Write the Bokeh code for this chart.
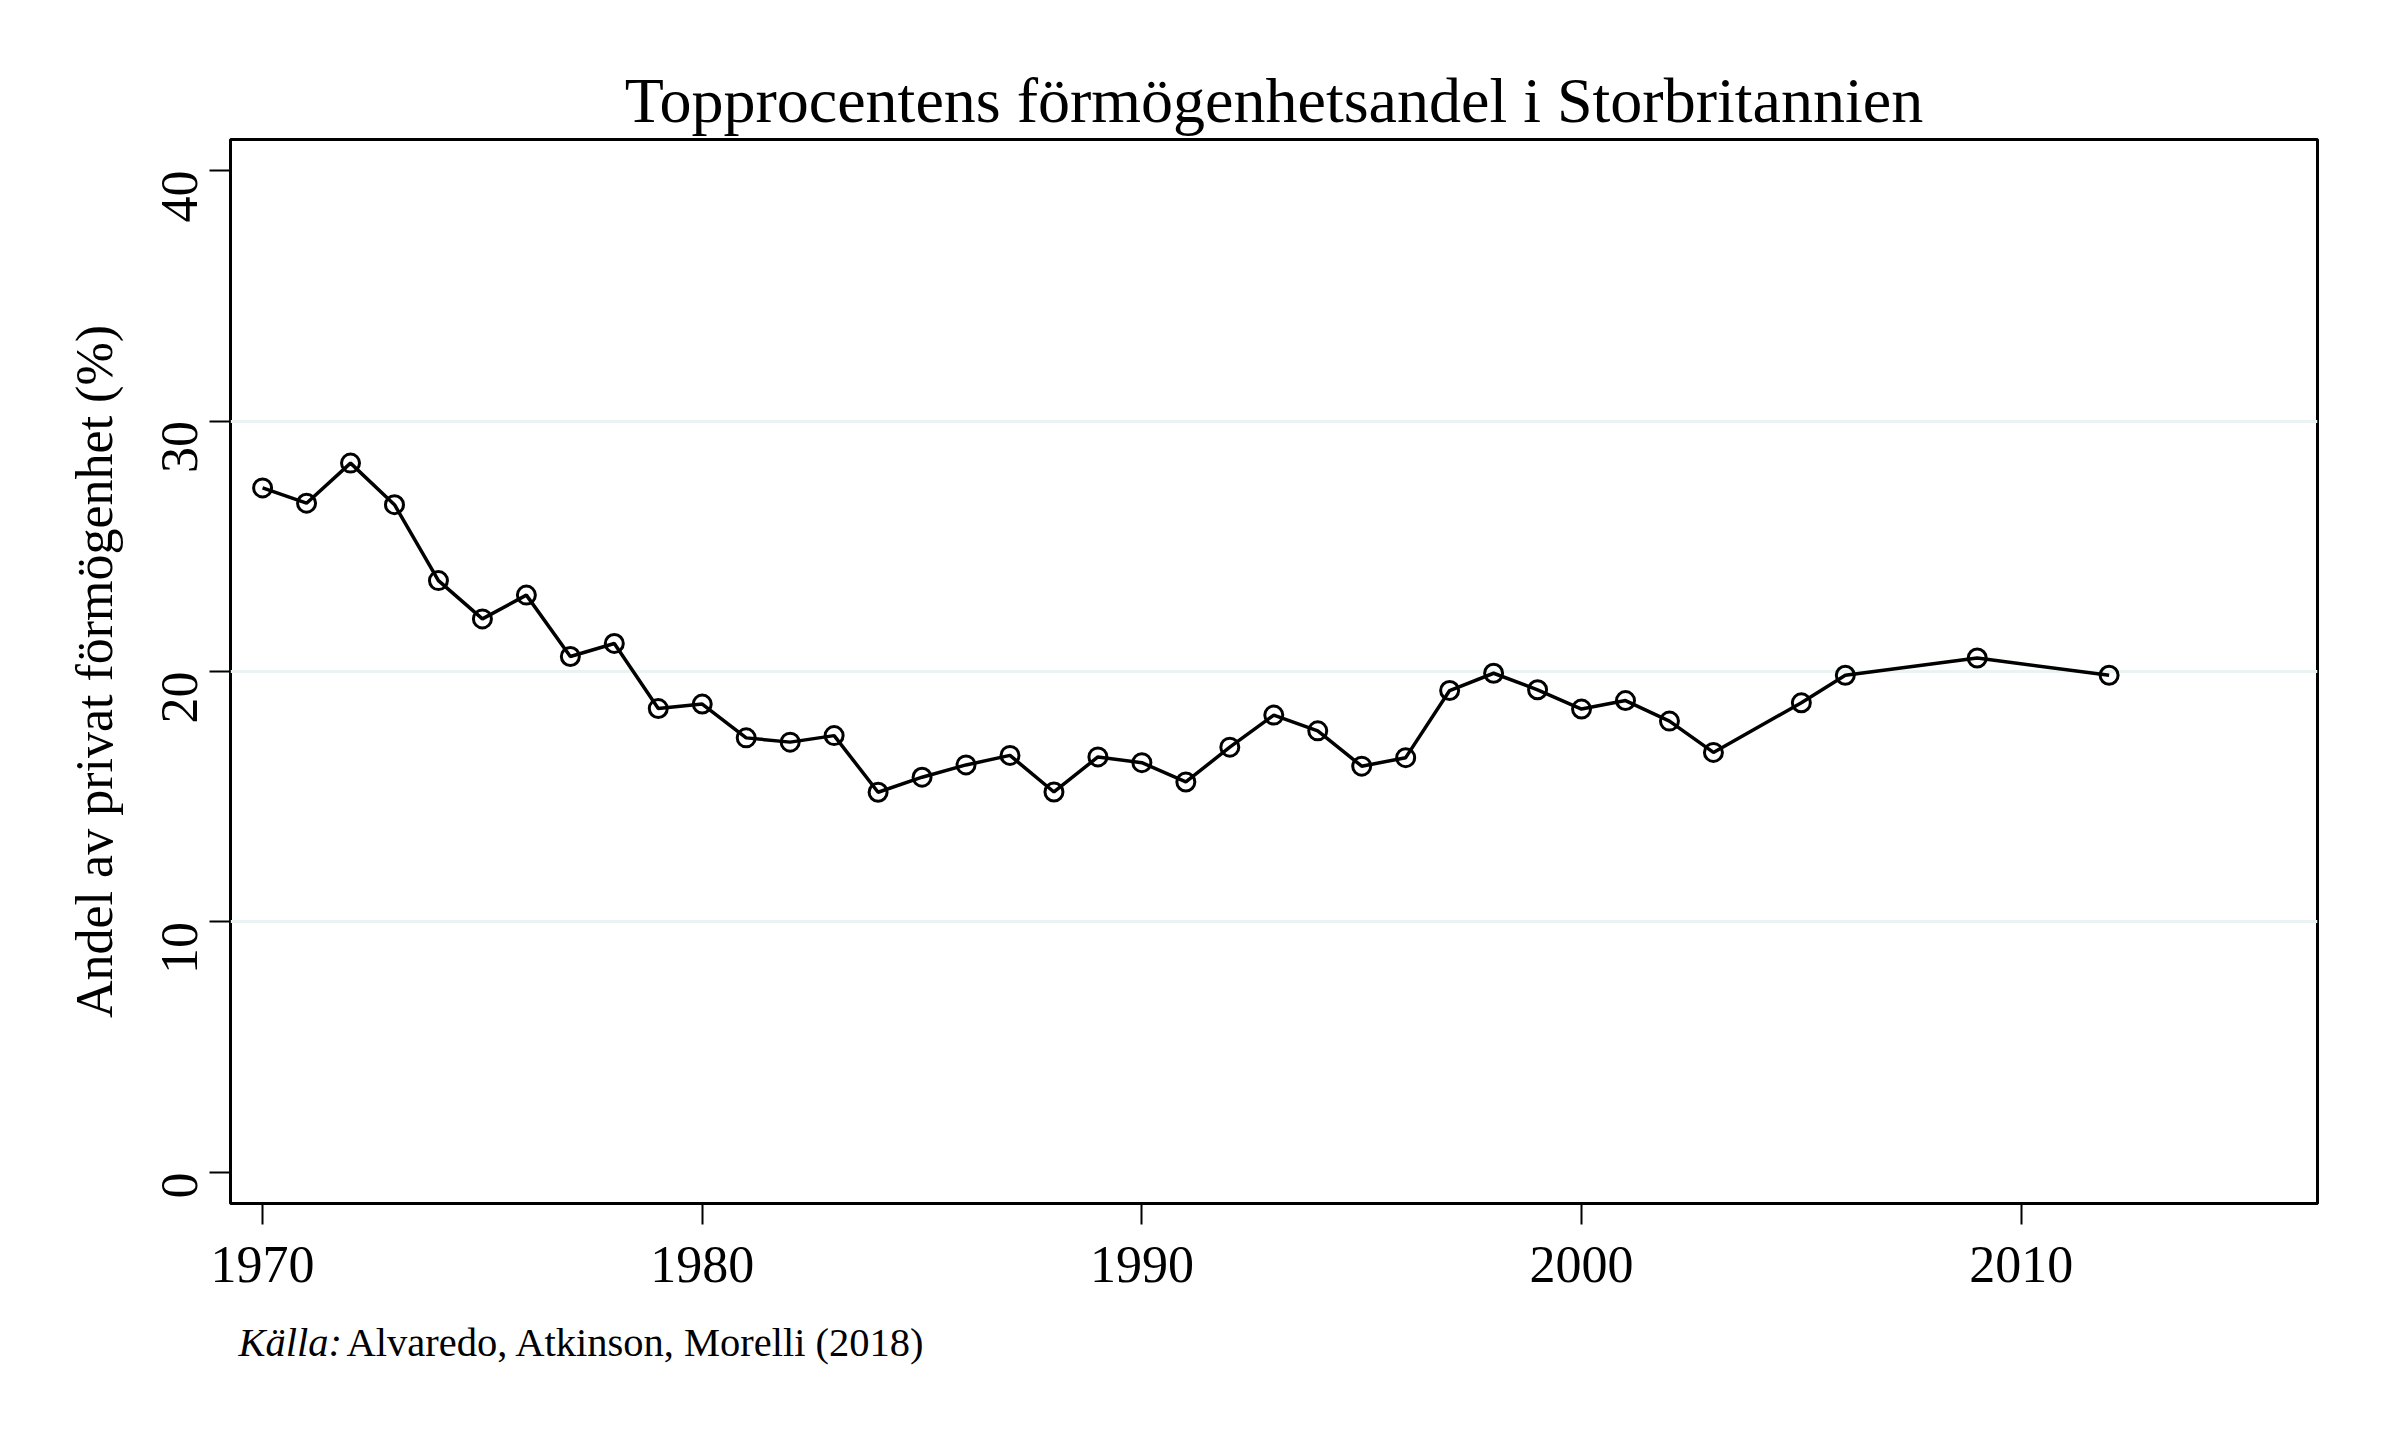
import math
from bokeh.plotting import figure
from bokeh.models import Range1d, FixedTicker, Label
from bokeh.embed import file_html
from bokeh.resources import INLINE

# Data (top 1% wealth share, UK)
years = [1970, 1971, 1972, 1973, 1974, 1975, 1976, 1977, 1978, 1979,
         1980, 1981, 1982, 1983, 1984, 1985, 1986, 1987, 1988, 1989,
         1990, 1991, 1992, 1993, 1994, 1995, 1996, 1997, 1998, 1999,
         2000, 2001, 2002, 2003, 2005, 2006, 2009, 2012]
share = [27.33, 26.72, 28.32, 26.66, 23.63, 22.10, 23.05, 20.60, 21.12, 18.52,
         18.70, 17.35, 17.18, 17.44, 15.18, 15.78, 16.27, 16.65, 15.19, 16.59,
         16.36, 15.59, 16.98, 18.26, 17.63, 16.22, 16.56, 19.24, 19.93, 19.27,
         18.50, 18.84, 18.02, 16.77, 18.75, 19.85, 20.54, 19.85]
x_ticks = [1970, 1980, 1990, 2000, 2010]
y_ticks = [0, 10, 20, 30, 40]
grid_ticks = [10, 20, 30]

title_text = "Topprocentens förmögenhetsandel i Storbritannien"
ylabel_text = "Andel av privat förmögenhet (%)"
source_lead = "Källa:"
source_text = "Alvaredo, Atkinson, Morelli (2018)"

FONT = "Liberation Serif"
FW, FH = 2087, 1064

p = figure(frame_width=FW, frame_height=FH,
           min_border_left=230, min_border_right=49,
           min_border_top=139, min_border_bottom=223,
           x_range=Range1d(1969.27, 2016.74), y_range=Range1d(-1.24, 41.24),
           output_backend="svg", toolbar_location=None,
           background_fill_color="white", border_fill_color="white")

p.title.text = title_text
p.title.align = "center"
p.title.text_font = FONT
p.title.text_font_size = "64px"
p.title.text_font_style = "normal"
p.title.text_color = "black"
p.title.standoff = 7

p.outline_line_color = "black"
p.outline_line_width = 3
p.outline_line_alpha = 1

p.xgrid.visible = False
p.ygrid.ticker = FixedTicker(ticks=grid_ticks)
p.ygrid.grid_line_color = "#eaf2f3"
p.ygrid.grid_line_width = 3

for ax in (p.xaxis[0], p.yaxis[0]):
    ax.axis_line_color = None
    ax.major_tick_line_color = "black"
    ax.major_tick_line_width = 2
    ax.major_tick_in = 0
    ax.major_tick_out = 21
    ax.minor_tick_line_color = None
    ax.major_label_text_font = FONT
    ax.major_label_text_font_size = "52px"
    ax.major_label_text_color = "black"

p.xaxis[0].ticker = FixedTicker(ticks=x_ticks)
p.xaxis[0].major_label_standoff = 22
p.yaxis[0].ticker = FixedTicker(ticks=y_ticks)
p.yaxis[0].major_label_orientation = math.pi / 2
p.yaxis[0].major_label_standoff = 30
p.yaxis[0].axis_label = ylabel_text
p.yaxis[0].axis_label_text_font = FONT
p.yaxis[0].axis_label_text_font_size = "52px"
p.yaxis[0].axis_label_text_font_style = "normal"
p.yaxis[0].axis_label_text_color = "black"
p.yaxis[0].axis_label_standoff = 19

p.line(years, share, line_color="black", line_width=3.5)
p.scatter(years, share, marker="circle", size=18, fill_color=None,
          line_color="black", line_width=3)

p.add_layout(Label(x=238, y=1342, x_units="canvas", y_units="canvas",
                   text=source_lead, text_align="left", text_baseline="alphabetic",
                   text_font=FONT, text_font_size="40.5px", text_font_style="italic",
                   text_color="black"), "below")
p.add_layout(Label(x=346, y=1342, x_units="canvas", y_units="canvas",
                   text=source_text, text_align="left", text_baseline="alphabetic",
                   text_font=FONT, text_font_size="40.5px", text_color="black"), "below")

open("out.html", "w").write(file_html(p, INLINE))
